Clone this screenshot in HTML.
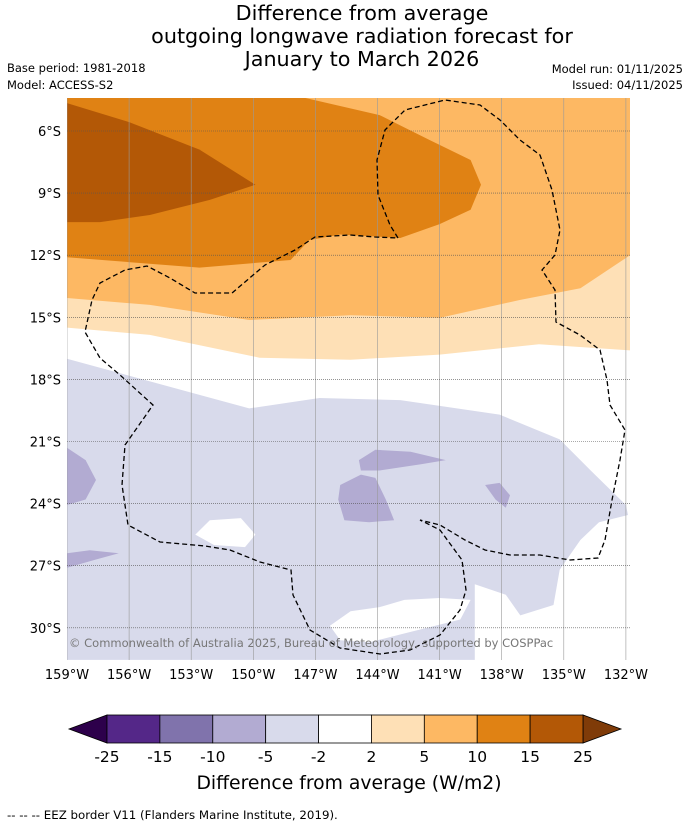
<!DOCTYPE html>
<html><head><meta charset="utf-8"><style>
body{margin:0;background:#fff;font-family:"Liberation Sans","DejaVu Sans",sans-serif}
svg{display:block}
</style></head><body>
<svg id="c" width="690" height="827" viewBox="0 0 690 827" xmlns="http://www.w3.org/2000/svg" font-family="DejaVu Sans, Liberation Sans, sans-serif">
<g font-size="20.7" text-anchor="middle" fill="#000">
<text x="362" y="20">Difference from average</text>
<text x="362" y="43">outgoing longwave radiation forecast for</text>
<text x="362" y="66">January to March 2026</text>
</g>
<text x="7" y="72" font-size="11.5">Base period: 1981-2018</text>
<text x="7" y="89" font-size="11.5">Model: ACCESS-S2</text>
<text x="683" y="73" font-size="11.5" text-anchor="end">Model run: 01/11/2025</text>
<text x="683" y="89" font-size="11.5" text-anchor="end">Issued: 04/11/2025</text>
<defs><clipPath id="mc"><rect x="67" y="98" width="563" height="562"/></clipPath></defs>
<g id="map" clip-path="url(#mc)"></g>
<g id="axes"></g>
<g id="cbar"></g>
<text x="349" y="789" font-size="18.8" text-anchor="middle">Difference from average (W/m2)</text>
<text x="7" y="819" font-size="11.8">--  --  -- EEZ border V11 (Flanders Marine Institute, 2019).</text>
</svg>
<script>
// axis ticks (degrees)
const lonTicks=[159,156,153,150,147,144,141,138,135,132];
const latTicks=[6,9,12,15,18,21,24,27,30];
// colour levels
const levels=[-25,-15,-10,-5,-2,2,5,10,15,25];
const binColors=["#542788","#8073ac","#b2abd2","#d8daeb","#ffffff","#fee0b6","#fdb863","#e08214","#b35806"];
// contour regions [lonW, latS]
const region5to10=[[159,4.4],[131.8,4.4],[131.8,12.0],[134.2,13.6],[137.1,14.16],[141,15.03],[145.3,14.9],[150.2,15.13],[155,14.4],[159,14.07]];
const region2to5=[[159,4.4],[131.8,4.4],[131.8,16.6],[136.2,16.3],[141,16.8],[145.3,17.05],[149.7,16.95],[155,15.85],[159,15.5]];
const region10to15=[[159,4.4],[147.5,4.4],[143.9,5.23],[141.5,6.43],[139.5,7.4],[139,8.6],[139.5,9.8],[141,10.5],[142.9,11.17],[145.8,11.0],[147.3,11.27],[148.2,12.23],[152.6,12.6],[159,12.1]];
const region15to25=[[159,4.65],[156,5.57],[152.6,6.9],[149.9,8.6],[152.1,9.33],[155,10.06],[157.4,10.4],[159,10.4]];
const regionM5toM2=[[159,17],[152.6,18.75],[150.2,19.4],[146.8,18.9],[142.9,19],[138.1,19.7],[135.2,20.9],[133.7,22.4],[132,24.07],[131.9,24.55],[133.3,24.9],[134.2,25.76],[135.2,27.2],[135.5,28.9],[137.1,29.4],[137.8,28.4],[139.3,27.9],[139.3,31.55],[159,31.55]];
const holeA=[[152.8,25.5],[152.1,24.8],[150.6,24.7],[149.9,25.5],[150.4,26.1],[151.9,26.0]];
const holeB=[[146.3,29.9],[145.3,29.2],[143.9,29.0],[142.7,28.65],[141,28.56],[139.5,28.65],[140,29.6],[142.4,30.2],[144.4,30.7],[145.8,30.6]];
const regionM10a=[[159,21.3],[158.1,21.9],[157.6,22.86],[158.1,23.8],[159,24.07]];
const regionM10b=[[159,26.4],[157.9,26.25],[156.5,26.4],[157.6,26.7],[159,27.1]];
const regionM10c=[[145.8,23.1],[144.8,22.6],[144.1,22.76],[143.6,23.8],[143.2,24.8],[144.4,24.9],[145.6,24.8],[145.9,23.8]];
const regionM10d=[[144.9,21.9],[144.1,21.4],[142.4,21.5],[140.7,21.9],[141.9,22.1],[143.9,22.4],[144.8,22.4]];
const regionM10e=[[138.8,23.1],[138.1,23.0],[137.6,23.6],[137.8,24.2],[138.3,23.8]];

const NS="http://www.w3.org/2000/svg";
const X=lon=>67+(159-lon)*20.7;
const Y=lat=>131+(lat-6)*20.7;
function mk(t,a,p){const e=document.createElementNS(NS,t);for(const k in a)e.setAttribute(k,a[k]);p.appendChild(e);return e;}
const map=document.getElementById('map'),axes=document.getElementById('axes'),cb=document.getElementById('cbar');
function poly(pts,fill,name){const e=mk('polygon',{points:pts.map(p=>X(p[0]).toFixed(1)+','+Y(p[1]).toFixed(1)).join(' '),fill:fill},map);

}
poly(region2to5,binColors[5],'region-2-to-5');
poly(region5to10,binColors[6],'region-5-to-10');
poly(region10to15,binColors[7],'region-10-to-15');
poly(region15to25,binColors[8],'region-15-to-25');
poly(regionM5toM2,binColors[3],'region-minus5-to-minus2');
poly(holeA,'#fff','neutral-patch-a');
poly(holeB,'#fff','neutral-patch-b');
[regionM10a,regionM10b,regionM10c,regionM10d,regionM10e].forEach((r,i)=>poly(r,binColors[2],'region-minus10-to-minus5-'+i));
// grid
lonTicks.forEach(l=>{const g=mk('line',{x1:X(l),x2:X(l),y1:98,y2:660,stroke:'#999','stroke-width':0.6},map);


const t=mk('text',{x:X(l),y:679,'font-size':13,'text-anchor':'middle'},axes);t.textContent=l+'°W';

});
latTicks.forEach(l=>{const g=mk('line',{x1:67,x2:630,y1:Y(l),y2:Y(l),stroke:'#555','stroke-width':0.6,'stroke-dasharray':'1,1'},map);


const t=mk('text',{x:61,y:Y(l)+5,'font-size':13,'text-anchor':'end'},axes);t.textContent=l+'°S';

});
// EEZ border
const eez=mk('path',{d:'M398,238 L390,225 378,195 377,160 385,130 405,110 445,100 480,105 500,120 520,140 540,155 552,190 560,230 555,255 542,270 555,290 556,322 580,335 600,350 607,380 610,405 625,430 620,460 612,500 605,540 598,558 570,560 540,555 510,555 485,550 465,540 440,525 420,520 440,530 462,560 466,590 460,610 440,635 410,650 380,654 340,648 310,630 293,595 291,570 260,562 230,550 205,546 160,542 128,525 122,485 125,445 153,405 120,375 100,358 85,332 92,300 100,283 125,270 147,266 170,278 195,293 232,293 265,265 295,250 315,237 350,235 375,237 Z',fill:'none',stroke:'#000','stroke-width':1.3,'stroke-dasharray':'5,3'},map);


const wm=mk('text',{x:69,y:647,'font-size':11.5,fill:'#777'},map);wm.textContent='© Commonwealth of Australia 2025, Bureau of Meteorology, supported by COSPPac';


// colorbar
const cx0=107,cx1=583,cy=715,ch=28,seg=(cx1-cx0)/binColors.length;
const lt=mk('polygon',{points:`${cx0},${cy} ${cx0},${cy+ch} 69,${cy+ch/2}`,fill:'#2d004b',stroke:'#000','stroke-width':0.8},cb);


const rt=mk('polygon',{points:`${cx1},${cy} ${cx1},${cy+ch} 621,${cy+ch/2}`,fill:'#7f3b08',stroke:'#000','stroke-width':0.8},cb);


binColors.forEach((c,i)=>{const r=mk('rect',{x:cx0+i*seg,y:cy,width:seg,height:ch,fill:c,stroke:'#000','stroke-width':0.8},cb);

});
levels.forEach((v,i)=>{const t=mk('text',{x:cx0+i*seg,y:762,'font-size':15.5,'text-anchor':'middle'},cb);t.textContent=v;

});
</script>
</body></html>
